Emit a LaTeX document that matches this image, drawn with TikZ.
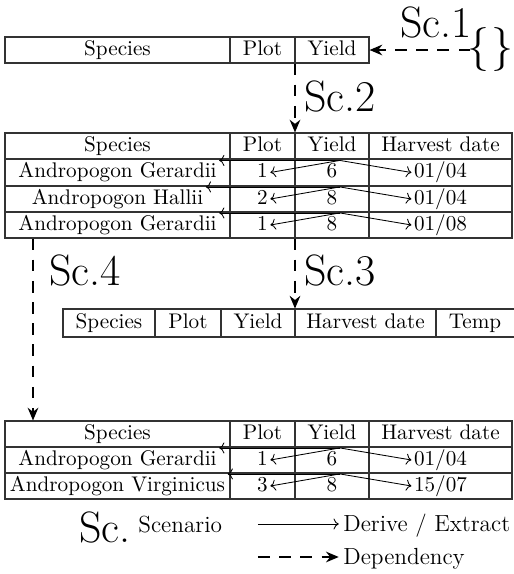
\documentclass[tikz,border=0pt]{standalone}
\usetikzlibrary{arrows.meta,fit,calc}
\begin{document}
\begin{tikzpicture}[x=0.472pt,y=-0.472pt,
  tblbox/.style={draw=black!80, line width=0.5pt, inner sep=0pt},
  tline/.style={draw=black!80, line width=0.5pt},
  cell/.style={inner sep=1pt, text height=7pt, text depth=2pt},
  derive/.style={->, line width=0.4pt},
  dep/.style={line width=1pt, dash pattern=on 5.5pt off 4.5pt, -{Stealth[length=6pt,width=5pt]}},
  sclab/.style={font=\huge, inner sep=0pt, anchor=base west},
  lgtext/.style={font=\fontsize{11}{13}\selectfont, inner sep=0pt, anchor=base west}]
\useasboundingbox (0,0) rectangle (514,574);
\coordinate (x33) at (33,0);
\coordinate (x295) at (295,0);
% ---------- Table 1
\coordinate (t1nw) at (5,37); \coordinate (t1se) at (369,63);
\node[tblbox, fit=(t1nw)(t1se)] (t1) {};
\draw[tline] (230,37) -- (230,63) (295,37) -- (295,63);
\node[cell] (t1a) at (117.5,50) {Species};
\node[cell] (t1b) at (262.5,50) {Plot};
\node[cell] (t1c) at (332,50) {Yield};
% braces and Sc.1
\node[font=\huge, inner sep=0pt, anchor=base east] (br) at (514,60) {\{\hspace{1pt}\}};
\draw[dep] ([xshift=1.5pt]br.west |- t1.east) -- (t1.east);
\node[sclab] (sc1) at (400,37) {Sc.1};
% ---------- Table 2
\coordinate (t2nw) at (5,133); \coordinate (t2se) at (512,238);
\node[tblbox, fit=(t2nw)(t2se)] (t2) {};
\draw[tline] (5,159) -- (512,159) (5,186) -- (512,186) (5,212) -- (512,212);
\draw[tline] (230,133) -- (230,238) (295,133) -- (295,238) (369,133) -- (369,238);
\node[cell] (t2a) at (117.5,146) {Species};
\node[cell] (t2b) at (262.5,146) {Plot};
\node[cell] (t2c) at (332,146) {Yield};
\node[cell] (t2d) at (440.5,146) {Harvest date};
\node[cell] (a1sp) at (117.5,172.5) {Andropogon Gerardii};
\node[cell] (a1pl) at (262.5,172.5) {1};
\node[cell] (a1yd) at (332,172.5) {6};
\node[cell] (a1dt) at (440.5,172.5) {01/04};
\node[cell] (a2sp) at (117.5,199) {Andropogon Hallii};
\node[cell] (a2pl) at (262.5,199) {2};
\node[cell] (a2yd) at (332,199) {8};
\node[cell] (a2dt) at (440.5,199) {01/04};
\node[cell] (a3sp) at (117.5,225) {Andropogon Gerardii};
\node[cell] (a3pl) at (262.5,225) {1};
\node[cell] (a3yd) at (332,225) {8};
\node[cell] (a3dt) at (440.5,225) {01/08};
\foreach \r in {a1,a2,a3}{
  \draw[derive] (\r yd.north east) -- (\r sp.north east);
  \draw[derive] (\r yd.north east) -- (\r pl.east);
  \draw[derive] (\r yd.north east) -- (\r dt.west);
}
% Sc.2
\draw[dep] (t1.south -| x295) -- (t2.north -| x295);
\node[sclab] (sc2) at (304,111) {Sc.2};
% ---------- Table 3
\coordinate (t3nw) at (63,309); \coordinate (t3se) at (514,337);
\node[inner sep=0pt, fit=(t3nw)(t3se)] (t3) {};
\draw[tline] (514,309) -- (63,309) -- (63,337) -- (514,337);
\draw[tline] (155,309) -- (155,337) (221,309) -- (221,337) (295,309) -- (295,337) (436,309) -- (436,337);
\node[cell] (t3a) at (109,323) {Species};
\node[cell] (t3b) at (188,323) {Plot};
\node[cell] (t3c) at (258,323) {Yield};
\node[cell] (t3d) at (365.5,323) {Harvest date};
\node[cell] (t3e) at (475,323) {Temp};
% Sc.3 and Sc.4
\draw[dep] (t2.south -| x295) -- (t3.north -| x295);
\node[sclab] (sc3) at (304,285) {Sc.3};
% ---------- Table 4
\coordinate (t4nw) at (5,421); \coordinate (t4se) at (512,499);
\node[tblbox, fit=(t4nw)(t4se)] (t4) {};
\draw[tline] (5,447) -- (512,447) (5,473) -- (512,473);
\draw[tline] (230,421) -- (230,499) (295,421) -- (295,499) (369,421) -- (369,499);
\node[cell] (t4a) at (117.5,434) {Species};
\node[cell] (t4b) at (262.5,434) {Plot};
\node[cell] (t4c) at (332,434) {Yield};
\node[cell] (t4d) at (440.5,434) {Harvest date};
\node[cell] (b1sp) at (117.5,460) {Andropogon Gerardii};
\node[cell] (b1pl) at (262.5,460) {1};
\node[cell] (b1yd) at (332,460) {6};
\node[cell] (b1dt) at (440.5,460) {01/04};
\node[cell] (b2sp) at (117.5,486) {Andropogon Virginicus};
\node[cell] (b2pl) at (262.5,486) {3};
\node[cell] (b2yd) at (332,486) {8};
\node[cell] (b2dt) at (440.5,486) {15/07};
\foreach \r in {b1,b2}{
  \draw[derive] (\r yd.north east) -- (\r sp.north east);
  \draw[derive] (\r yd.north east) -- (\r pl.east);
  \draw[derive] (\r yd.north east) -- (\r dt.west);
}
\draw[dep] (t2.south -| x33) -- (t4.north -| x33);
\node[sclab] (sc4) at (49,285) {Sc.4};
% ---------- Legend
\node[sclab] (lsc) at (79,542) {Sc.};
\node[lgtext] (lscn) at (138,532) {Scenario};
\node[lgtext] (lder) at (343,531) {Derive / Extract};
\node[lgtext] (ldep) at (343,564) {Dependency};
\coordinate (l1s) at (258,524);
\coordinate (l2s) at (258,557);
\draw[derive] (l1s) -- ([xshift=-2pt]l1s -| lder.west);
\draw[dep] (l2s) -- ([xshift=-2pt]l2s -| ldep.west);
\end{tikzpicture}
\end{document}
